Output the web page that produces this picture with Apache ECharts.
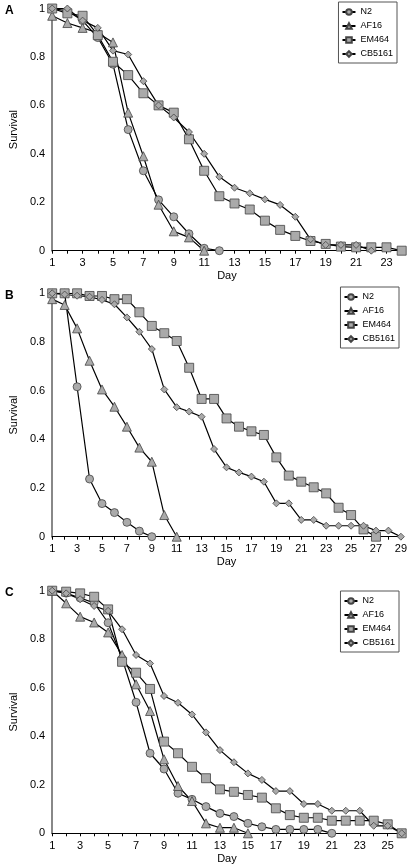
<!DOCTYPE html>
<html>
<head>
<meta charset="utf-8">
<script src="https://cdn.jsdelivr.net/npm/echarts@6/dist/echarts.min.js"></script>
<style>
html,body{margin:0;padding:0;background:#fff;}
#chart{width:410px;height:866px;}
</style>
</head>
<body>
<div id="chart"></div>
<script>
// ---- Panel A ----
var daysA = ['1','2','3','4','5','6','7','8','9','10','11','12','13','14','15','16','17','18','19','20','21','22','23','24'];
var n2A     = [1.00,0.99,0.95,0.88,0.77,0.50,0.33,0.21,0.14,0.07,0.01,0.00];
var af16A   = [0.97,0.94,0.92,0.90,0.86,0.57,0.39,0.19,0.08,0.055,0.00];
var em464A  = [1.00,0.98,0.97,0.89,0.78,0.725,0.65,0.60,0.57,0.46,0.33,0.225,0.195,0.17,0.124,0.086,0.061,0.04,0.028,0.017,0.014,0.014,0.014,0.00];
var cb5161A = [1.00,1.00,0.95,0.92,0.826,0.81,0.70,0.60,0.55,0.49,0.40,0.305,0.26,0.237,0.212,0.189,0.14,0.047,0.024,0.024,0.024,0.00];

// ---- Panel B ----
var daysB = ['1','2','3','4','5','6','7','8','9','10','11','12','13','14','15','16','17','18','19','20','21','22','23','24','25','26','27','28','29'];
var n2B     = [1.00,1.00,0.616,0.237,0.136,0.099,0.059,0.023,0.00];
var af16B   = [0.976,0.952,0.856,0.723,0.605,0.534,0.452,0.366,0.308,0.089,0.00];
var em464B  = [1.00,1.00,1.00,0.989,0.989,0.976,0.976,0.922,0.866,0.836,0.804,0.694,0.566,0.566,0.486,0.452,0.433,0.418,0.326,0.251,0.226,0.203,0.178,0.119,0.089,0.030,0.00];
var cb5161B = [1.00,0.995,0.99,0.986,0.973,0.955,0.901,0.842,0.771,0.605,0.532,0.514,0.493,0.360,0.285,0.264,0.247,0.226,0.137,0.137,0.069,0.069,0.045,0.045,0.045,0.045,0.025,0.025,0.00];

// ---- Panel C ----
var daysC = ['1','2','3','4','5','6','7','8','9','10','11','12','13','14','15','16','17','18','19','20','21','22','23','24','25','26'];
var n2C     = [1.00,0.99,0.97,0.95,0.868,0.72,0.54,0.33,0.265,0.165,0.14,0.11,0.082,0.069,0.041,0.027,0.016,0.016,0.016,0.016,0.00];
var af16C   = [1.00,0.948,0.893,0.869,0.828,0.735,0.614,0.504,0.305,0.195,0.133,0.041,0.023,0.023,0.00];
var em464C  = [1.00,0.996,0.989,0.975,0.923,0.707,0.662,0.595,0.378,0.330,0.274,0.227,0.181,0.171,0.158,0.147,0.103,0.075,0.064,0.064,0.052,0.052,0.052,0.052,0.037,0.00];
var cb5161C = [1.00,0.989,0.965,0.937,0.917,0.841,0.735,0.700,0.566,0.538,0.490,0.416,0.343,0.293,0.247,0.220,0.174,0.174,0.121,0.121,0.093,0.093,0.093,0.031,0.031,0.00];

var seriesNames = ['N2','AF16','EM464','CB5161'];
var panelLetters = ['A','B','C'];

var panels = [
  {days: daysA, data: [n2A, af16A, em464A, cb5161A], top: 8.5, height: 242.2, legend: {right: 13, top: 2}},
  {days: daysB, data: [n2B, af16B, em464B, cb5161B], top: 293.3, height: 243.4, legend: {right: 11, top: 287}},
  {days: daysC, data: [n2C, af16C, em464C, cb5161C], top: 590.7, height: 242.6, legend: {right: 11, top: 591}}
];

var symbols = ['circle','triangle','rect','diamond'];
var symbolSizes = [8, 9, 9, 7];
var FONT = '"Liberation Sans", Arial, sans-serif';

var grids = [], xAxes = [], yAxes = [], series = [], legends = [], titles = [];
panels.forEach(function (p, i) {
  grids.push({left: 50, width: 351.7, top: p.top, height: p.height});
  xAxes.push({
    type: 'category', gridIndex: i, data: p.days, boundaryGap: false,
    name: 'Day', nameLocation: 'middle', nameGap: 20,
    nameTextStyle: {fontSize: 11, color: '#000', fontFamily: FONT},
    axisLine: {lineStyle: {color: '#000', width: 1}},
    axisTick: {show: true, interval: 0, length: 3, lineStyle: {color: '#000'}},
    axisLabel: {interval: 1, fontSize: 11, color: '#000', fontFamily: FONT, margin: 7},
    splitLine: {show: false}
  });
  yAxes.push({
    type: 'value', gridIndex: i, min: 0, max: 1, interval: 0.2,
    name: 'Survival', nameLocation: 'middle', nameGap: 23,
    nameTextStyle: {fontSize: 11, color: '#000', fontFamily: FONT},
    axisLine: {show: true, lineStyle: {color: '#888', width: 2}},
    axisTick: {show: false},
    axisLabel: {fontSize: 11, color: '#000', fontFamily: FONT, margin: 7},
    splitLine: {show: false}
  });
  p.data.forEach(function (arr, k) {
    series.push({
      name: seriesNames[k], type: 'line', xAxisIndex: i, yAxisIndex: i,
      data: arr, symbol: symbols[k], symbolSize: symbolSizes[k], showAllSymbol: true,
      lineStyle: {color: '#000', width: 1.2},
      itemStyle: {color: '#aaaaaa', borderColor: '#444', borderWidth: 0.8},
      animation: false
    });
  });
  legends.push({
    right: p.legend.right, top: p.legend.top, orient: 'vertical',
    data: seriesNames, itemWidth: 13, itemHeight: 7, itemGap: 2,
    padding: [4, 4, 3, 3], borderColor: '#555', borderWidth: 1,
    textStyle: {fontSize: 9, color: '#000', fontFamily: FONT, lineHeight: 12},
    selectedMode: false
  });
  titles.push({
    text: panelLetters[i], left: 5, top: p.top - 4, padding: 0,
    textStyle: {fontSize: 12, fontWeight: 'bold', color: '#000', fontFamily: FONT}
  });
});

var chart = echarts.init(document.getElementById('chart'), null, {renderer: 'canvas'});
chart.setOption({
  animation: false,
  backgroundColor: '#fff',
  title: titles,
  grid: grids,
  xAxis: xAxes,
  yAxis: yAxes,
  legend: legends,
  series: series
});
</script>
</body>
</html>
